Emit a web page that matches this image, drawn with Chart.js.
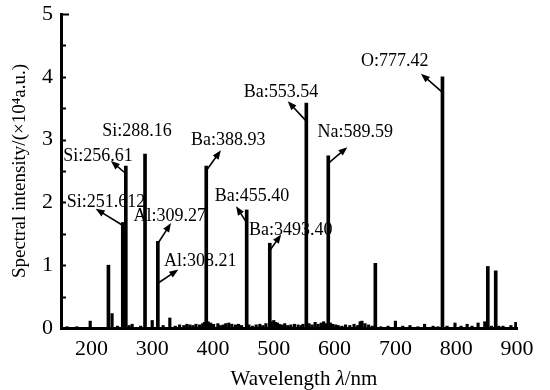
<!DOCTYPE html>
<html>
<head>
<meta charset="utf-8">
<script src="https://cdn.jsdelivr.net/npm/chart.js@4/dist/chart.umd.min.js"></script>
<style>
  html, body { margin: 0; padding: 0; background: #fff; }
  #wrap { width: 550px; height: 390px; }
</style>
</head>
<body>
<div id="wrap"><canvas id="chart" width="550" height="390"></canvas></div>
<script>
// main emission lines (nm, x10^4 a.u.)
const peakNm  = [228, 251.6, 256.6, 288.2, 309.3, 388.9, 455.4, 493.4, 553.5, 589.6, 667, 777.4, 852, 865];
const peakVal = [1.0, 1.68, 2.58, 2.77, 1.38, 2.58, 1.88, 1.35, 3.58, 2.74, 1.03, 4.0, 0.98, 0.91];

// small lines near the baseline
const noiseNm  = [160, 176, 198, 234, 243, 262, 267, 281, 300, 318, 329, 338, 345, 352, 357, 362, 367, 372, 378, 383, 386, 392, 396, 401, 408, 412, 417, 421, 426, 431, 437, 442, 447, 459, 465, 471, 477, 482, 487, 497, 500, 503, 506, 509, 513, 518, 523, 528, 534, 540, 545, 548, 558, 563, 568, 573, 578, 582, 586, 593, 597, 602, 606, 612, 618, 625, 632, 638, 642, 645, 650, 656, 662, 676, 688, 700, 712, 724, 737, 748, 762, 770, 785, 798, 808, 818, 826, 836, 847, 858, 870, 877, 890, 898];
const noiseVal = [0.02, 0.02, 0.11, 0.23, 0.03, 0.04, 0.06, 0.03, 0.12, 0.04, 0.16, 0.03, 0.05, 0.04, 0.06, 0.05, 0.04, 0.06, 0.05, 0.07, 0.09, 0.1, 0.08, 0.06, 0.07, 0.04, 0.05, 0.07, 0.08, 0.06, 0.05, 0.06, 0.04, 0.05, 0.03, 0.05, 0.06, 0.04, 0.07, 0.1, 0.12, 0.09, 0.08, 0.06, 0.05, 0.07, 0.04, 0.05, 0.06, 0.05, 0.04, 0.06, 0.07, 0.05, 0.09, 0.06, 0.08, 0.1, 0.07, 0.08, 0.06, 0.05, 0.04, 0.03, 0.05, 0.04, 0.06, 0.04, 0.1, 0.11, 0.07, 0.05, 0.03, 0.02, 0.03, 0.11, 0.03, 0.04, 0.02, 0.06, 0.03, 0.02, 0.03, 0.08, 0.03, 0.06, 0.03, 0.08, 0.1, 0.03, 0.03, 0.03, 0.04, 0.09];

const yTicks = [0, 1, 2, 3, 4, 5];
const xTicks = [200, 300, 400, 500, 600, 700, 800, 900];

// line labels: text, text centre (nm, value), arrow tail, arrow head (null = no arrow)
const labelText = ["Si:251.612", "Si:256.61", "Si:288.16", "Al:309.27", "Al:308.21", "Ba:388.93", "Ba:455.40", "Ba:3493.40", "Ba:553.54", "Na:589.59", "O:777.42"];
const labelAt   = [[224, 2.01], [211, 2.74], [275, 3.14], [329, 1.78], [379, 1.07], [425, 2.99], [464, 2.09], [528, 1.56], [512, 3.76], [634, 3.11], [699, 4.24]];
const arrowFrom = [[250.5, 1.64], [254, 2.48], null, [309.5, 1.35], [310.5, 0.72], [390, 2.52], [454.5, 1.69], [494, 1.24], [552, 3.31], [590.5, 2.63], [776.5, 3.76]];
const arrowTo   = [[207, 1.9], [232, 2.66], null, [331, 1.67], [343, 0.93], [413, 2.83], [438, 1.94], [512, 1.49], [523, 3.61], [621, 2.88], [742, 4.05]];

const serif = "'Liberation Serif', 'Times New Roman', serif";

const labelPlugin = {
  id: 'lineLabels',
  afterDatasetsDraw(chart) {
    const {ctx, scales: {x, y}, chartArea} = chart;
    ctx.save();
    // inward ticks on the y axis
    ctx.strokeStyle = '#000';
    ctx.lineWidth = 2;
    for (let v = 0.5; v <= 5; v += 0.5) {
      const py = Math.round(y.getPixelForValue(v)) + 0.5;
      ctx.beginPath();
      ctx.moveTo(chartArea.left, py);
      ctx.lineTo(chartArea.left + (v === 5 ? 8 : 5), py);
      ctx.stroke();
    }
    ctx.fillStyle = '#000';
    ctx.font = '18px ' + serif;
    ctx.textAlign = 'center';
    ctx.textBaseline = 'middle';
    labelText.forEach((t, i) => {
      ctx.fillText(t, x.getPixelForValue(labelAt[i][0]), y.getPixelForValue(labelAt[i][1]));
      if (!arrowFrom[i]) return;
      const x0 = x.getPixelForValue(arrowFrom[i][0]), y0 = y.getPixelForValue(arrowFrom[i][1]);
      const x1 = x.getPixelForValue(arrowTo[i][0]), y1 = y.getPixelForValue(arrowTo[i][1]);
      const a = Math.atan2(y1 - y0, x1 - x0);
      ctx.lineWidth = 1.6;
      ctx.beginPath();
      ctx.moveTo(x0, y0);
      ctx.lineTo(x1 - 5 * Math.cos(a), y1 - 5 * Math.sin(a));
      ctx.stroke();
      ctx.beginPath();
      ctx.moveTo(x1, y1);
      ctx.lineTo(x1 - 9 * Math.cos(a) + 3.5 * Math.sin(a), y1 - 9 * Math.sin(a) - 3.5 * Math.cos(a));
      ctx.lineTo(x1 - 9 * Math.cos(a) - 3.5 * Math.sin(a), y1 - 9 * Math.sin(a) + 3.5 * Math.cos(a));
      ctx.closePath();
      ctx.fill();
    });

    // x axis title with italic lambda
    const parts = [["Wavelength ", ''], ["λ", 'italic '], ["/nm", '']];
    ctx.textAlign = 'left';
    let w = 0;
    parts.forEach(p => { ctx.font = p[1] + '21px ' + serif; w += ctx.measureText(p[0]).width; });
    let tx = (chartArea.left + chartArea.right) / 2 + 15 - w / 2;
    parts.forEach(p => {
      ctx.font = p[1] + '21px ' + serif;
      ctx.fillText(p[0], tx, chartArea.bottom + 51);
      tx += ctx.measureText(p[0]).width;
    });
    ctx.restore();
  }
};

new Chart(document.getElementById('chart'), {
  type: 'bar',
  data: {
    datasets: [
      {
        data: peakNm.map((v, i) => ({x: v, y: peakVal[i]})),
        backgroundColor: '#000',
        barThickness: 3,
        grouped: false
      },
      {
        data: noiseNm.map((v, i) => ({x: v, y: noiseVal[i]})),
        backgroundColor: '#000',
        barThickness: 2.5,
        grouped: false
      }
    ]
  },
  options: {
    responsive: false,
    animation: false,
    layout: { padding: { top: 14, right: 33, left: 0, bottom: 0 } },
    plugins: { legend: { display: false }, tooltip: { enabled: false } },
    scales: {
      x: {
        type: 'linear',
        min: 150,
        max: 900,
        offset: false,
        grid: { display: false },
        border: { display: true, color: '#000', width: 3 },
        afterFit: s => { s.height = 62; },
        afterBuildTicks: s => { s.ticks = xTicks.map(v => ({value: v})); },
        ticks: { color: '#000', font: { family: serif, size: 22 }, padding: 0, maxRotation: 0 }
      },
      y: {
        min: 0,
        max: 5,
        grid: { display: false },
        border: { display: true, color: '#000', width: 3 },
        afterFit: s => { s.width = 61; },
        afterBuildTicks: s => { s.ticks = yTicks.map(v => ({value: v})); },
        ticks: { color: '#000', font: { family: serif, size: 22 }, padding: 0 },
        title: { display: true, text: 'Spectral intensity/(×10⁴a.u.)', color: '#000', font: { family: serif, size: 19 }, padding: { top: 9, bottom: 0 } }
      }
    }
  },
  plugins: [labelPlugin]
});
</script>
</body>
</html>
